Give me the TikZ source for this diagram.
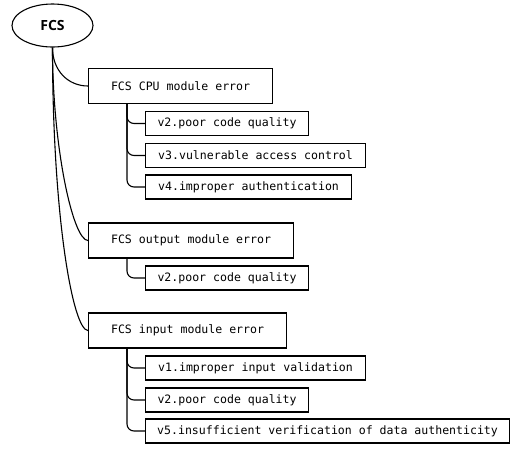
\documentclass[tikz,border=0pt]{standalone}
\usepackage{fontspec}
\usetikzlibrary{shapes.geometric}
\newfontfamily\monof{DejaVu Sans Mono}
\newfontfamily\fcsf{Open Sans}
\tikzset{
  x=1pt, y=-1pt,
  mainbox/.style={draw, line width=1.1pt, rectangle, anchor=west, minimum height=35pt, inner sep=0pt,
    font=\monof\fontsize{11.55pt}{13pt}\selectfont},
  subbox/.style={draw, line width=1.1pt, rectangle, anchor=west, minimum height=24pt, inner sep=0pt,
    font=\monof\fontsize{11.55pt}{13pt}\selectfont},
  link/.style={draw, line width=1.1pt},
  sublink/.style={draw, line width=1.1pt, rounded corners=7pt},
}
\begin{document}
\begin{tikzpicture}
\useasboundingbox (0,0) rectangle (510,448);
\node[draw, ellipse, line width=1.1pt, minimum width=81pt, minimum height=43pt, inner sep=0pt,
  font=\fcsf\bfseries\fontsize{14pt}{16pt}\selectfont] (fcs) at (52.5,25.5) {FCS};

\node[mainbox, minimum width=184pt] (b1) at (88,86) {FCS CPU module error};
\node[mainbox, minimum width=205pt] (b2) at (88,240.5) {FCS output module error};
\node[mainbox, minimum width=198pt] (b3) at (88,330.5) {FCS input module error};

\node[subbox, minimum width=163pt] (c11) at (145,123.5) {v2.poor code quality};
\node[subbox, minimum width=220pt] (c12) at (145,155.5) {v3.vulnerable access control};
\node[subbox, minimum width=206pt] (c13) at (145,187) {v4.improper authentication};
\node[subbox, minimum width=163pt] (c21) at (145,278) {v2.poor code quality};
\node[subbox, minimum width=220pt] (c31) at (145,368) {v1.improper input validation};
\node[subbox, minimum width=163pt] (c32) at (145,400) {v2.poor code quality};
\node[subbox, minimum width=364pt] (c33) at (145,431) {v5.insufficient verification of data authenticity};

\draw[link] (fcs.south) .. controls +(0,23) and +(-20,0) .. (b1.west);
\draw[link] (fcs.south) .. controls +(0,100) and +(-15,0) .. (b2.west);
\draw[link] (fcs.south) .. controls +(0,170) and +(-15,0) .. (b3.west);

\draw[sublink] ([xshift=39pt]b1.south west) |- (c11.west);
\draw[sublink] ([xshift=39pt]b1.south west) |- (c12.west);
\draw[sublink] ([xshift=39pt]b1.south west) |- (c13.west);
\draw[sublink] ([xshift=39pt]b2.south west) |- (c21.west);
\draw[sublink] ([xshift=39pt]b3.south west) |- (c31.west);
\draw[sublink] ([xshift=39pt]b3.south west) |- (c32.west);
\draw[sublink] ([xshift=39pt]b3.south west) |- (c33.west);
\end{tikzpicture}
\end{document}
